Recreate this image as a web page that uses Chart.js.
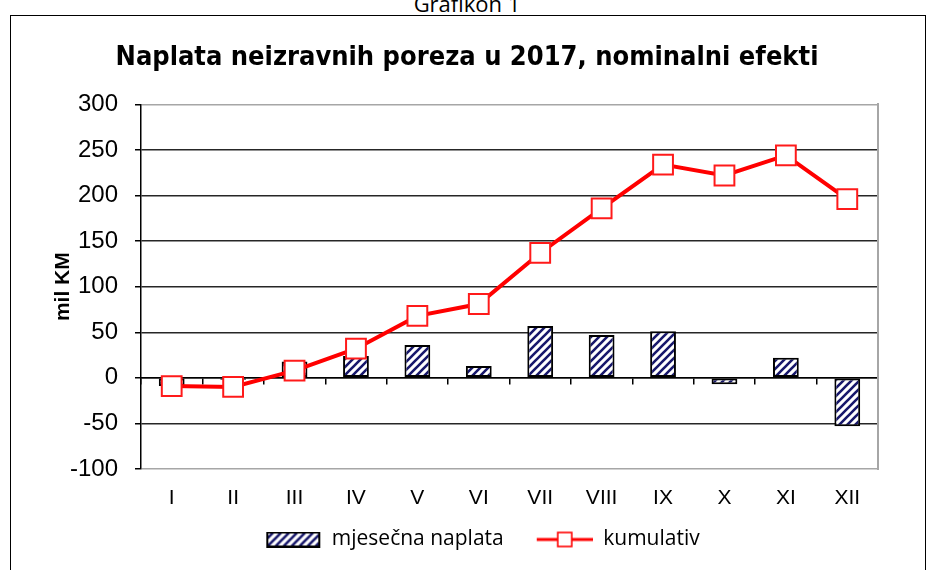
<!DOCTYPE html>
<html>
<head>
<meta charset="utf-8">
<script src="https://cdn.jsdelivr.net/npm/chart.js@4"></script>
<style>
  html, body { margin: 0; padding: 0; background: #fff; overflow: hidden; }
  .frame { position: absolute; left: 10px; top: 15px; width: 914px; height: 570px; border: 1.5px solid #000; }
  .caption { position: absolute; left: 0; top: -12px; width: 934px; text-align: center;
             font: 22px "Open Sans", sans-serif; color: #000; }
  .wrap { position: absolute; left: 0; top: 0; width: 934px; height: 570px; }
</style>
</head>
<body>
<div class="caption">Grafikon 1</div>
<div class="frame"></div>
<div class="wrap"><canvas id="chart"></canvas></div>
<script>
const months = ["I", "II", "III", "IV", "V", "VI", "VII", "VIII", "IX", "X", "XI", "XII"];
const monthly = [-9, -2, 18, 24, 36, 13, 57, 47, 51, -7, 22, -53];
const cumulative = [-9, -10, 8, 32, 68, 81, 137, 186, 234, 222, 244, 196];

// diagonal hatch fill for the bars
function hatch() {
  let c = document.createElement("canvas");
  c.width = 8; c.height = 8;
  let g = c.getContext("2d");
  g.fillStyle = "#fff";
  g.fillRect(0, 0, 8, 8);
  g.strokeStyle = "#17176b";
  g.lineWidth = 2.6;
  g.beginPath();
  g.moveTo(-2, 10); g.lineTo(10, -2);
  g.moveTo(-2, 2); g.lineTo(2, -2);
  g.moveTo(6, 10); g.lineTo(10, 6);
  g.stroke();
  return c.getContext("2d").createPattern(c, "repeat");
}
const hatchFill = hatch();

// legend icons, drawn at the right end of an 87px box
const ICON_W = 87;
function barIcon() {
  let c = document.createElement("canvas");
  c.width = ICON_W; c.height = 16;
  let g = c.getContext("2d");
  g.fillStyle = hatchFill;
  g.fillRect(ICON_W - 54, 1, 52, 14);
  g.strokeStyle = "#000";
  g.lineWidth = 2;
  g.strokeRect(ICON_W - 54, 1, 52, 14);
  return c;
}
function lineIcon() {
  let c = document.createElement("canvas");
  c.width = ICON_W; c.height = 18;
  let g = c.getContext("2d");
  let x0 = ICON_W - 56;
  g.strokeStyle = "#ff0000";
  g.lineWidth = 3;
  g.beginPath(); g.moveTo(x0, 9); g.lineTo(ICON_W, 9); g.stroke();
  g.fillStyle = "#fff";
  g.fillRect(x0 + 21, 2, 14, 14);
  g.lineWidth = 1.6;
  g.strokeRect(x0 + 21, 2, 14, 14);
  return c;
}
const icons = [barIcon(), lineIcon()];

new Chart(document.getElementById("chart").getContext("2d"), {
  data: {
    labels: months,
    datasets: [
      {
        type: "line",
        label: "kumulativ",
        data: cumulative,
        borderColor: "#ff0000",
        borderWidth: 4,
        pointStyle: "rect",
        pointRadius: 14,
        pointBackgroundColor: "#fff",
        pointBorderColor: "#ff1a1a",
        pointBorderWidth: 2,
        order: 0,
      }, {
        type: "bar",
        label: "mjesečna naplata",
        data: monthly,
        backgroundColor: hatchFill,
        borderColor: "#000",
        borderWidth: 2,
        borderSkipped: false,
        categoryPercentage: 1,
        barPercentage: 0.42,
        order: 1,
      },
    ]
  },
  options: {
    responsive: true,
    maintainAspectRatio: false,
    animation: false,
    layout: { padding: { left: 0, right: 0, bottom: 10 } },
    plugins: {
      tooltip: { enabled: false },
      title: {
        display: true,
        text: "Naplata neizravnih poreza u 2017, nominalni efekti",
        color: "#000",
        font: { family: "'Liberation Sans Narrow', 'DejaVu Sans Condensed', sans-serif", size: 27, weight: "bold" },
        padding: { top: 42, bottom: 30 },
      },
      legend: {
        position: "bottom",
        reverse: true,
        labels: {
          color: "#000",
          font: { family: "'Open Sans', sans-serif", size: 21 },
          usePointStyle: true,
          pointStyleWidth: ICON_W,
          padding: 2,
          generateLabels: chart => chart.data.datasets.map((ds, i) => ({
            text: ds.label,
            datasetIndex: i,
            pointStyle: icons[ds.type === "bar" ? 0 : 1],
            fillStyle: "#fff",
            strokeStyle: "#fff",
            lineWidth: 0,
            fontColor: "#000",
          })),
        },
      },
    },
    scales: {
      x: {
        type: "category",
        offset: true,
        grid: { display: false },
        border: { display: false },
        ticks: { color: "#000", font: { family: "Arial, 'Liberation Sans'", size: 21 }, padding: 9 },
        afterFit: scale => { scale.height = 58; },
      },
      x0: {
        type: "category",
        position: { y: 0 },
        offset: true,
        grid: { offset: true, drawOnChartArea: false, tickLength: 6, color: "#000", lineWidth: 1.5 },
        border: { color: "#000", width: 1.5 },
        ticks: { display: false },
      },
      y: {
        min: -100,
        max: 300,
        ticks: { stepSize: 50, color: "#000", font: { family: "Arial, 'Liberation Sans'", size: 24 }, padding: 17 },
        grid: {
          color: c => (c.tick && (c.tick.value === 300 || c.tick.value === -100)) ? "#a6a6a6" : "#262626",
          lineWidth: 1.5,
          tickLength: 6,
          tickColor: "#000",
        },
        border: { color: "#000", width: 1.5 },
        title: {
          display: true,
          text: "mil KM",
          color: "#000",
          font: { family: "Arial, 'Liberation Sans'", size: 21, weight: "bold" },
          padding: { top: 51, bottom: 0 },
        },
        afterFit: scale => { scale.width = 141; },
      },
      yR: {
        position: "right",
        min: -100,
        max: 300,
        ticks: { display: false },
        grid: { display: false },
        border: { color: "#a6a6a6", width: 2 },
        afterFit: scale => { scale.width = 56; },
      },
    },
  },
});
</script>
</body>
</html>
